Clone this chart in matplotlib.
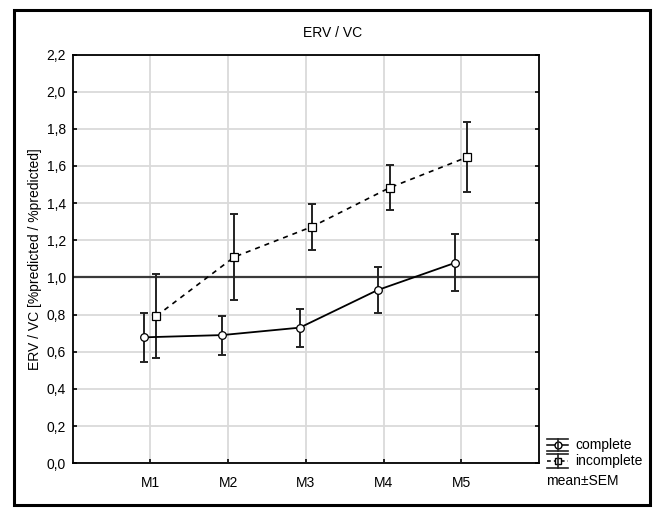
import matplotlib
matplotlib.use('Agg')
import matplotlib.pyplot as plt
from matplotlib.lines import Line2D
from matplotlib.patches import Rectangle
from matplotlib.ticker import FuncFormatter, MultipleLocator
import numpy as np

plt.rcParams['font.family'] = ['Liberation Sans', 'DejaVu Sans']

GROUPS = ['M1', 'M2', 'M3', 'M4', 'M5']
COMPLETE_MEAN = [0.678, 0.690, 0.730, 0.932, 1.079]
COMPLETE_SEM = [0.132, 0.105, 0.102, 0.124, 0.154]
INCOMPLETE_MEAN = [0.793, 1.110, 1.273, 1.483, 1.648]
INCOMPLETE_SEM = [0.228, 0.229, 0.124, 0.121, 0.188]

W, H = 657, 508
FS = 10
fig = plt.figure(figsize=(W / 100, H / 100), dpi=100)


def fx(px):
    return px / W


def fy(py):
    return 1 - py / H


def fig_line(xs, ys, **kw):
    fig.add_artist(Line2D([fx(v) for v in xs], [fy(v) for v in ys],
                          transform=fig.transFigure, **kw))


# outer frame
fig.add_artist(Rectangle((fx(14), fy(505)), fx(650) - fx(14), fy(10) - fy(505),
                         fill=False, edgecolor='black', lw=2.2, transform=fig.transFigure))

ax = fig.add_axes([fx(72.7), fy(463.3), fx(539) - fx(72.7), fy(54.5) - fy(463.3)])

x = np.arange(1, len(GROUPS) + 1)
off = 0.078
ax.axhline(1.0, color='#3a3a3a', lw=1.6, zorder=2)

ax.errorbar(x - off, COMPLETE_MEAN, yerr=COMPLETE_SEM, fmt='none', ecolor='#222222',
            elinewidth=1.4, capsize=3, capthick=1.4, zorder=3)
ax.plot(x - off, COMPLETE_MEAN, '-', color='black', lw=1.3, marker='o', ms=5.5,
        mfc='white', mec='black', mew=0.9, zorder=4)

ax.errorbar(x + off, INCOMPLETE_MEAN, yerr=INCOMPLETE_SEM, fmt='none', ecolor='#222222',
            elinewidth=1.4, capsize=3, capthick=1.4, zorder=3)
ax.plot(x + off, INCOMPLETE_MEAN, linestyle=(0, (3, 3)), color='black', lw=1.2,
        marker='s', ms=5.5, mfc='white', mec='black', mew=0.9, zorder=4)

ax.set_xlim(0, 6)
ax.set_ylim(0, 2.2)
ax.set_xticks(x)
ax.set_xticklabels(GROUPS)
ax.yaxis.set_major_locator(MultipleLocator(0.2))
ax.yaxis.set_major_formatter(FuncFormatter(lambda v, p: f'{v:.1f}'.replace('.', ',')))
ax.grid(True, color='#dadada', lw=1.3, zorder=0)
ax.set_axisbelow(True)
ax.tick_params(direction='in', length=3, width=1.2, labelsize=FS, right=True, pad=5)
ax.tick_params(axis='x', pad=9)
for s in ax.spines.values():
    s.set_color('black')
    s.set_linewidth(1.3)

ax.set_ylabel('ERV / VC [%predicted / %predicted]', fontsize=FS, labelpad=3)
fig.text(fx(333), fy(33), 'ERV / VC', ha='center', va='center', fontsize=FS)

# legend beside the axes: error-bar symbol with line and marker
fig_line([547, 557.5, 568], [445] * 3, color='black', lw=1.1,
         marker='o', markevery=[1], ms=5, mfc='white', mec='black')
fig_line([547, 557.5, 568], [461] * 3, color='black', lw=1.1, linestyle=(0, (2.5, 2)),
         marker='s', markevery=[1], ms=5, mfc='white', mec='black')
for yl in (438.5, 451, 454, 467.5):
    fig_line([547, 568], [yl, yl], color='#222222', lw=1.2)
for y0, y1 in ((438.5, 451), (454, 467.5)):
    fig_line([557.5, 557.5], [y0, y1], color='#222222', lw=1.2)
fig.text(fx(575), fy(445), 'complete', ha='left', va='center', fontsize=FS)
fig.text(fx(575), fy(461.5), 'incomplete', ha='left', va='center', fontsize=FS)
fig.text(fx(546), fy(481), 'mean±SEM', ha='left', va='center', fontsize=FS)

fig.savefig('out.png', dpi=100, facecolor='white')
